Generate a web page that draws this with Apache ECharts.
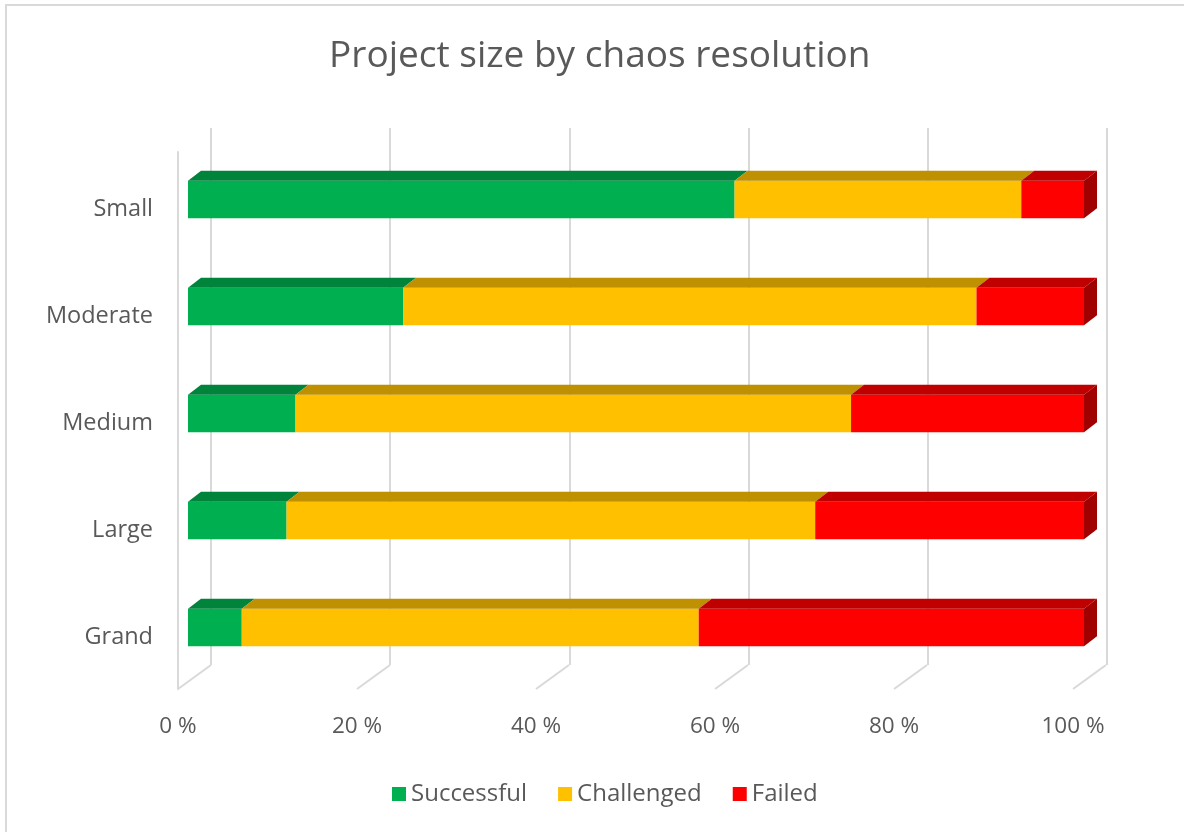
<!DOCTYPE html>
<html>
<head>
<meta charset="utf-8">
<script src="https://cdn.jsdelivr.net/npm/echarts@6/dist/echarts.min.js"></script>
<style>html,body{margin:0;padding:0;background:#fff;}#c{width:1184px;height:832px;}</style>
</head>
<body>
<div id="c"></div>
<script>
const categories = ['Small', 'Moderate', 'Medium', 'Large', 'Grand'];
const successful = [61, 24, 12, 11, 6];
const challenged = [32, 64, 62, 59, 51];
const failed = [7, 12, 26, 30, 43];
const xTicks = [0, 20, 40, 60, 80, 100];
const seriesNames = ['Successful', 'Challenged', 'Failed'];

const FONT = '"Open Sans", Lato, sans-serif';
const TXT = '#595959';
const GRIDC = '#D9D9D9';
const palette = [
  { front: '#00B050', top: '#00843C', side: '#006B30' },
  { front: '#FFC000', top: '#BF9000', side: '#9A7400' },
  { front: '#FF0000', top: '#C00000', side: '#A00000' }
];
const BAR_DX = 13, BAR_DY = 10;   // bar depth projection
const FLOOR_DX = 33, FLOOR_DY = 24; // floor depth projection

const valueSets = [successful, challenged, failed];
function stackedData(k) {
  return categories.map((c, i) => {
    let s = 0;
    for (let j = 0; j < k; j++) s += valueSets[j][i];
    return [i, s, s + valueSets[k][i]];
  });
}

function barRender(k) {
  return function (params, api) {
    const cat = api.value(0), s = api.value(1), e = api.value(2);
    const p0 = api.coord([s, cat]);
    const p1 = api.coord([e, cat]);
    const h = api.size([0, 1])[1] * 0.35;
    const yt = p0[1] - h / 2, yb = p0[1] + h / 2;
    const x0 = p0[0], x1 = p1[0];
    const col = palette[k];
    const children = [
      { type: 'rect', shape: { x: x0, y: yt, width: x1 - x0, height: h }, style: { fill: col.front } },
      { type: 'polygon', shape: { points: [[x0, yt], [x0 + BAR_DX, yt - BAR_DY], [x1 + BAR_DX, yt - BAR_DY], [x1, yt]] }, style: { fill: col.top } }
    ];
    if (k === valueSets.length - 1) {
      children.push({ type: 'polygon', shape: { points: [[x1, yt], [x1 + BAR_DX, yt - BAR_DY], [x1 + BAR_DX, yb - BAR_DY], [x1, yb]] }, style: { fill: col.side } });
    }
    return { type: 'group', children };
  };
}

const barSeries = seriesNames.map((name, k) => ({
  name,
  type: 'custom',
  xAxisIndex: 0,
  yAxisIndex: 0,
  renderItem: barRender(k),
  itemStyle: { color: palette[k].front },
  encode: { x: [1, 2], y: 0 },
  data: stackedData(k),
  z: 5
}));

const floorSeries = {
  type: 'custom',
  xAxisIndex: 2,
  yAxisIndex: 2,
  silent: true,
  renderItem: function (params, api) {
    const v = api.value(0);
    const p = api.coord([v, 0]);
    const bottom = params.coordSys.y + params.coordSys.height;
    return {
      type: 'line',
      shape: { x1: p[0], y1: bottom, x2: p[0] + FLOOR_DX, y2: bottom - FLOOR_DY },
      style: { stroke: GRIDC, lineWidth: 2 }
    };
  },
  encode: { x: 0 },
  data: xTicks.map(v => [v]),
  z: 1
};

const option = {
  animation: false,
  backgroundColor: '#fff',
  title: {
    text: 'Project size by chaos resolution',
    left: 324,
    top: 33,
    textStyle: { fontFamily: FONT, fontSize: 37, fontWeight: 'normal', color: TXT }
  },
  legend: {
    data: seriesNames,
    bottom: 21,
    left: 387,
    icon: 'rect',
    itemWidth: 14,
    itemHeight: 14,
    itemGap: 31,
    textStyle: { fontFamily: FONT, fontSize: 24, color: TXT }
  },
  graphic: [
    { type: 'rect', shape: { x: 6, y: 5, width: 1200, height: 860 }, style: { fill: 'none', stroke: GRIDC, lineWidth: 2 }, silent: true }
  ],
  grid: [
    { left: 188, width: 896, top: 146, height: 535 },   // bars
    { left: 211, width: 896, top: 128, height: 537 },   // back wall
    { left: 178, width: 895, top: 152, height: 537 },   // front floor
    { left: 188, width: 896, top: 156, height: 535 }    // category labels
  ],
  xAxis: [
    { gridIndex: 0, type: 'value', min: 0, max: 100, show: false },
    { gridIndex: 1, type: 'value', min: 0, max: 100, interval: 20,
      axisLine: { show: false }, axisTick: { show: false }, axisLabel: { show: false },
      splitLine: { show: true, lineStyle: { color: GRIDC, width: 2 } } },
    { gridIndex: 2, type: 'value', min: 0, max: 100, interval: 20,
      axisLine: { show: false }, axisTick: { show: false }, splitLine: { show: false },
      axisLabel: { formatter: '{value} %', margin: 26, fontFamily: FONT, fontSize: 22.5, color: TXT } },
    { gridIndex: 3, type: 'value', min: 0, max: 100, show: false }
  ],
  yAxis: [
    { gridIndex: 0, type: 'category', data: categories, inverse: true, show: false },
    { gridIndex: 1, type: 'value', show: false },
    { gridIndex: 2, type: 'category', data: categories, inverse: true,
      axisLine: { show: true, lineStyle: { color: GRIDC, width: 2 } },
      axisTick: { show: false }, axisLabel: { show: false }, splitLine: { show: false } },
    { gridIndex: 3, type: 'category', data: categories, inverse: true,
      axisLine: { show: false }, axisTick: { show: false }, splitLine: { show: false },
      axisLabel: { margin: 35, fontFamily: FONT, fontSize: 23.5, color: TXT } }
  ],
  series: [floorSeries].concat(barSeries)
};

const chart = echarts.init(document.getElementById('c'), null, { renderer: 'canvas' });
chart.setOption(option);
</script>
</body>
</html>
